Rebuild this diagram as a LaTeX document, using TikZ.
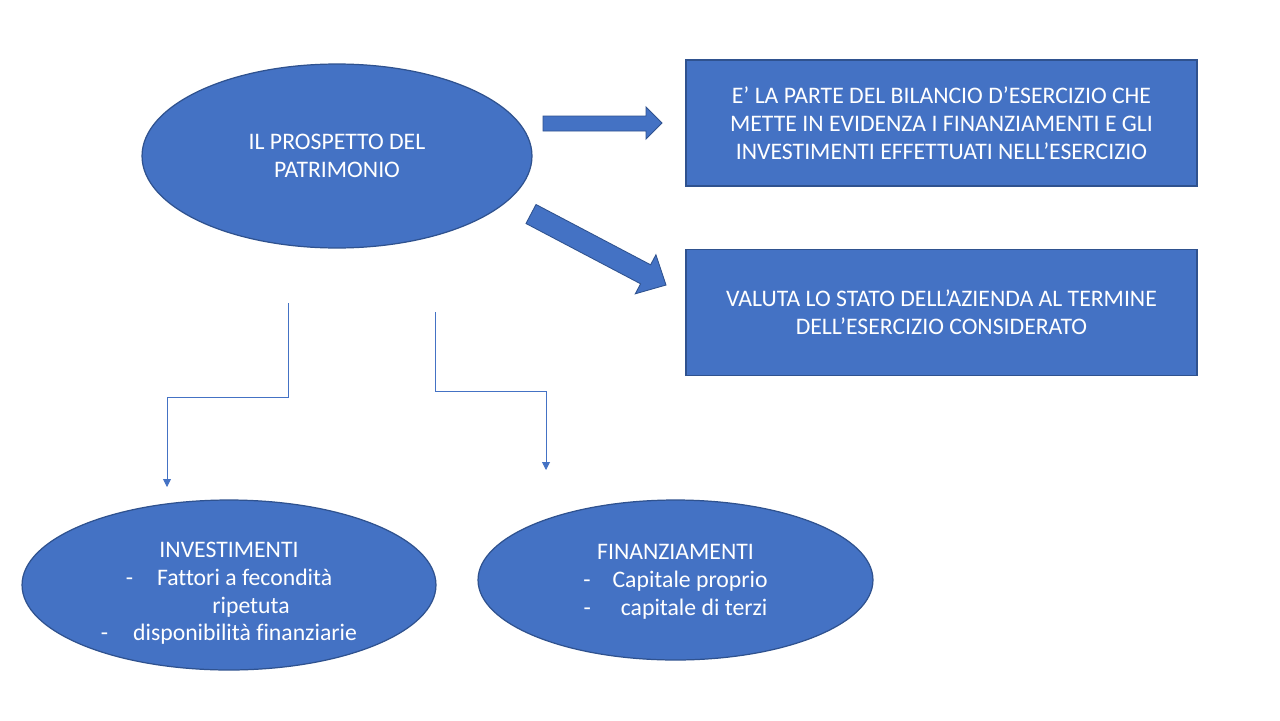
\documentclass[tikz,border=0pt]{standalone}
\usepackage{fontspec}
\setmainfont{Carlito}[Ligatures=NoCommon]
\usetikzlibrary{positioning,arrows.meta,shapes.geometric}
\definecolor{officeblue}{HTML}{4472C4}
\definecolor{edgeblue}{HTML}{2F528F}
\newcommand\slidefont{\fontsize{13.5}{15.9}\selectfont}

\begin{document}
\begin{tikzpicture}[
    x=0.02cm, y=-0.02cm,
    node distance=1.24cm,
    oval/.style={ellipse, draw=edgeblue, line width=0.7pt, fill=officeblue,
                 text=white, inner sep=0pt, align=center, font=\slidefont},
    card/.style={rectangle, draw=edgeblue, line width=0.7pt, fill=officeblue,
                 text=white, minimum width=10.22cm, minimum height=2.52cm,
                 align=center, font=\slidefont},
    blockarr/.style={fill=officeblue, draw=edgeblue, line width=0.5pt},
    conn/.style={-{Triangle[length=4.5pt,width=4.5pt]}, draw=officeblue, line width=0.5pt}
  ]
    \useasboundingbox[fill=white] (0,0) rectangle (1280,720);

    \node[oval, minimum width=7.8cm, minimum height=3.68cm] (prosp) at (337,156)
        {IL PROSPETTO DEL\\PATRIMONIO};
    \node[card] (def) at (941.5,123)
        {E’ LA PARTE DEL BILANCIO D’ESERCIZIO CHE\\METTE IN EVIDENZA I FINANZIAMENTI E GLI\\INVESTIMENTI EFFETTUATI NELL’ESERCIZIO};
    \node[card, below=of def] (valuta)
        {VALUTA LO STATO DELL’AZIENDA AL TERMINE\\DELL’ESERCIZIO CONSIDERATO};

    \node[oval, minimum width=8.28cm, minimum height=3.4cm] (invest) at (229,585)
        {\rule{0pt}{0.64cm}INVESTIMENTI\\-\hspace{0.48cm}Fattori a fecondità\\\hspace*{0.88cm}ripetuta\\-\hspace{0.5cm}disponibilità finanziarie};
    \node[oval, minimum width=7.9cm, minimum height=3.2cm] (finanz) at (675.5,580)
        {\rule{0pt}{0.38cm}FINANZIAMENTI\\-\hspace{0.44cm}Capitale proprio\\-\hspace{0.6cm}capitale di terzi};

    % block arrows
    \draw[blockarr] (543,116) -- (646,116) -- (646,107) -- (662,123)
        -- (646,139) -- (646,131) -- (543,131) -- cycle;
    \draw[blockarr] (536,204.5) -- (650.6,264.8) -- (655.9,254.8) -- (666,285)
        -- (635.3,293.8) -- (640.6,283.8) -- (526,223.5) -- cycle;

    % thin connectors
    \coordinate (invtop) at (288,303);
    \coordinate (invend) at (167,487);
    \coordinate (fintop) at (435,312);
    \coordinate (finend) at (546,470);
    \draw[conn] (invtop) -- ++(0,94) -| (invend);
    \draw[conn] (fintop) -- ++(0,79) -| (finend);
\end{tikzpicture}
\end{document}
